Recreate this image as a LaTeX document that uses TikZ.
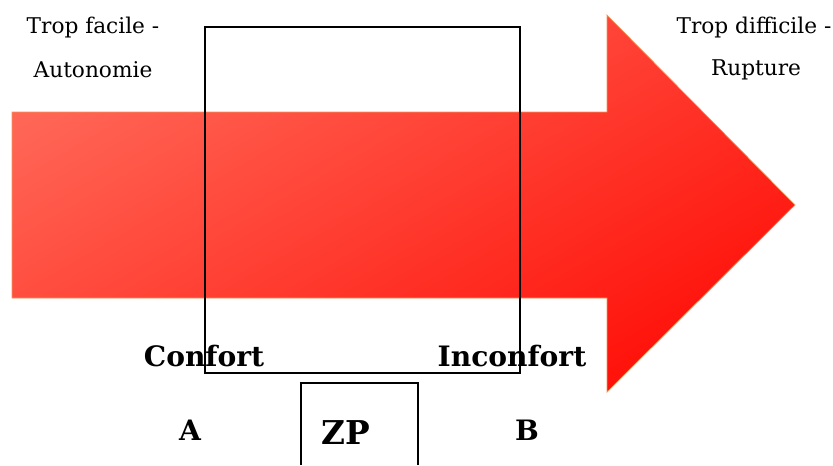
\documentclass[tikz,border=0pt]{standalone}
\usepackage{fontspec}
\setmainfont{DejaVu Serif}
\usetikzlibrary{positioning}

\definecolor{arrowlight}{RGB}{255,102,86}
\definecolor{arrowmid}{RGB}{255,82,68}
\definecolor{arrowdark}{RGB}{255,18,10}
\definecolor{arrowrim}{RGB}{240,150,90}

\begin{document}
\begin{tikzpicture}[x=0.03cm,y=-0.03cm,thick,
  small label/.style={font=\fontsize{18.5}{22}\selectfont,inner sep=0pt},
  big label/.style={font=\fontsize{24}{28}\selectfont\bfseries,inner sep=0pt},
  zone box/.style={draw=black,line width=0.9pt}]

  \useasboundingbox (0,0) rectangle (833,465);

  % the big arrow
  \path[draw=arrowrim,line width=0.6pt,left color=arrowlight,middle color=arrowmid,right color=arrowdark,shading angle=30]
    (12,112) -- (607,112) -- (607,15) -- (795,205) -- (607,392) -- (607,298) -- (12,298) -- cycle;

  % zone rectangles
  \draw[zone box] (205,27) rectangle (520,373);
  \draw[zone box] (301,465) -- (301,383) -- (418,383) -- (418,465);

  \node[small label] at (93,28) (facile) {Trop facile -};
  \node[small label] at (93,70) (autonomie) {Autonomie};
  \node[small label] at (754,28) (difficile) {Trop difficile -};
  \node[small label] at (756,70) (rupture) {Rupture};

  \node[big label] at (204,356) (confort) {Confort};
  \node[big label] at (512,356) (inconfort) {Inconfort};
  \node[big label] at (190,430) (A) {A};
  \node[big label] at (527,430) (B) {B};
  \node[big label,font=\fontsize{28}{32}\selectfont\bfseries] at (346,433) (zp) {ZP};

\end{tikzpicture}
\end{document}
